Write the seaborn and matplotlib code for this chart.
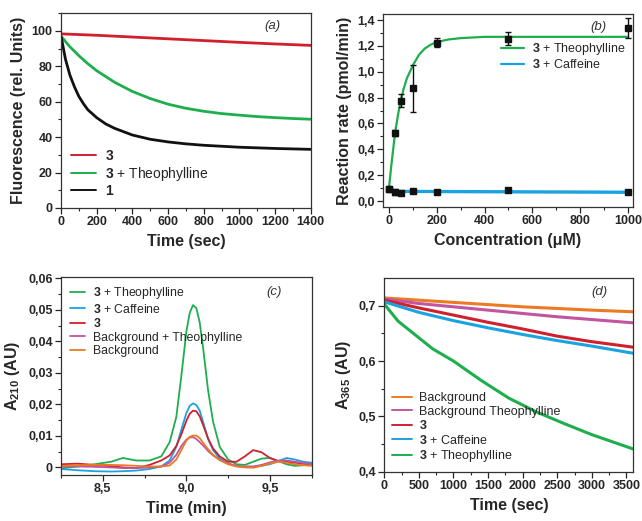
import numpy as np
import pandas as pd
import matplotlib
matplotlib.use("Agg")
import matplotlib.pyplot as plt
import seaborn as sns
from matplotlib.ticker import MultipleLocator, FuncFormatter

# ---------------- Panel (a): fluorescence vs time ----------------
a_red_t = [0, 200, 400, 600, 800, 1000, 1200, 1400]
a_red_y = [98.3, 97.5, 96.5, 95.5, 94.5, 93.5, 92.6, 91.8]
a_green_t = [0, 50, 100, 150, 200, 300, 400, 500, 600, 700, 800, 900, 1000, 1100, 1200, 1300, 1400]
a_green_y = [97.0, 91.0, 86.0, 81.5, 77.5, 71.0, 65.8, 61.8, 58.6, 56.3, 54.6, 53.3, 52.4, 51.6, 51.0, 50.5, 50.1]
a_black_t = [0, 10, 25, 50, 75, 100, 125, 150, 200, 250, 300, 400, 500, 600, 700, 800, 1000, 1200, 1400]
a_black_y = [97, 92, 84, 75, 68.5, 63, 59, 55.5, 51, 47.5, 45, 41.2, 38.8, 37.3, 36.2, 35.4, 34.3, 33.6, 33.1]
a_labels = [r"$\mathbf{3}$", r"$\mathbf{3}$ + Theophylline", r"$\mathbf{1}$"]

# ---------------- Panel (b): reaction rate vs concentration ----------------
b_conc = [0, 25, 50, 100, 200, 500, 1000]
b_theo = [0.09, 0.526, 0.777, 0.872, 1.226, 1.256, 1.341]
b_theo_err = [0.01, 0.02, 0.05, 0.18, 0.035, 0.05, 0.077]
b_caff = [0.09, 0.07, 0.064, 0.074, 0.067, 0.082, 0.067]
b_caff_err = [0.01, 0.02, 0.008, 0.01, 0.008, 0.012, 0.008]
b_fit_theo_x = [0, 5, 10, 15, 20, 25, 30, 40, 50, 60, 75, 100, 125, 150, 175, 200, 250, 300, 400, 600, 1000]
b_fit_theo_y = [0.10, 0.19, 0.28, 0.36, 0.44, 0.52, 0.58, 0.69, 0.78, 0.86, 0.95, 1.05, 1.13, 1.18, 1.21, 1.23, 1.25, 1.26, 1.27, 1.27, 1.27]
b_fit_caff_x = [0, 1000]
b_fit_caff_y = [0.075, 0.068]
b_labels = [r"$\mathbf{3}$ + Theophylline", r"$\mathbf{3}$ + Caffeine"]

# ---------------- Panel (c): chromatograms ----------------
c_t = [8.25, 8.35, 8.45, 8.55, 8.62, 8.7, 8.78, 8.85, 8.9, 8.94, 8.97, 9.0, 9.02, 9.04, 9.06, 9.08,
       9.1, 9.13, 9.16, 9.2, 9.25, 9.3, 9.35, 9.4, 9.45, 9.5, 9.55, 9.6, 9.65, 9.7, 9.75]
c_theo = [-0.0003, 0.0003, 0.001, 0.0018, 0.003, 0.0022, 0.0022, 0.0035, 0.008, 0.016, 0.029, 0.043, 0.049,
          0.0515, 0.0505, 0.046, 0.038, 0.0245, 0.0145, 0.0065, 0.0025, 0.001, 0.0008, 0.0018, 0.0028,
          0.003, 0.002, 0.001, 0.0005, 0.0007, 0.001]
c_caff = [-0.0005, -0.0009, -0.0012, -0.0013, -0.0012, -0.001, -0.0005, 0.0003, 0.0022, 0.0065, 0.012,
          0.0172, 0.0195, 0.0203, 0.0198, 0.018, 0.0145, 0.009, 0.0055, 0.0028, 0.0012, 0.0004, 0.0002,
          0.0002, 0.0005, 0.001, 0.002, 0.003, 0.0025, 0.0018, 0.0015]
c_three = [0.001, 0.0012, 0.0008, 0.0004, 0.0, -0.0002, 0.0008, 0.0022, 0.0038, 0.0068, 0.0105, 0.0148,
           0.017, 0.018, 0.0178, 0.0162, 0.0135, 0.0092, 0.006, 0.0035, 0.0018, 0.0018, 0.0035, 0.0055,
           0.0048, 0.003, 0.002, 0.0018, 0.0015, 0.0012, 0.001]
c_bg_theo = [0.0003, 0.0003, 0.0002, 0.0, -0.0002, -0.0002, 0.0, 0.0003, 0.0015, 0.004, 0.0068, 0.0088,
             0.0095, 0.0096, 0.009, 0.008, 0.007, 0.0052, 0.0038, 0.0024, 0.0012, 0.0005, 0.0003, 0.0003,
             0.0008, 0.0016, 0.0022, 0.0022, 0.0018, 0.0014, 0.001]
c_bg = [0.0005, 0.0007, 0.0008, 0.0008, 0.0007, 0.0005, 0.0003, 0.0003, 0.0006, 0.0025, 0.0055, 0.0085,
        0.0097, 0.0101, 0.0101, 0.0093, 0.0078, 0.0058, 0.004, 0.0023, 0.001, 0.0003, 0.0, -0.0001,
        0.0005, 0.0012, 0.0018, 0.0015, 0.001, 0.0007, 0.0005]
c_labels = [r"$\mathbf{3}$ + Theophylline", r"$\mathbf{3}$ + Caffeine", r"$\mathbf{3}$",
            "Background + Theophylline", "Background"]

# ---------------- Panel (d): absorbance vs time ----------------
d_t = [0, 500, 1000, 1500, 2000, 2500, 3000, 3600]
d_bg = [0.714, 0.710, 0.706, 0.702, 0.698, 0.695, 0.692, 0.689]
d_bg_theo = [0.712, 0.704, 0.698, 0.692, 0.686, 0.680, 0.675, 0.669]
d_three = [0.710, 0.696, 0.683, 0.670, 0.658, 0.645, 0.635, 0.625]
d_caff = [0.707, 0.688, 0.673, 0.660, 0.648, 0.637, 0.627, 0.614]
d_theo_t = [0, 200, 400, 700, 1000, 1400, 1800, 2200, 2600, 3000, 3300, 3600]
d_theo = [0.703, 0.672, 0.652, 0.622, 0.600, 0.565, 0.533, 0.508, 0.487, 0.467, 0.454, 0.441]
d_labels = ["Background", "Background Theophylline", r"$\mathbf{3}$", r"$\mathbf{3}$ + Caffeine",
            r"$\mathbf{3}$ + Theophylline"]

RED = "#d0202e"
GREEN = "#1fae4e"
BLACK = "#111111"
BLUE = "#1aa3e0"
MAGENTA = "#c2559f"
ORANGE = "#ec7a24"

sns.set_style("ticks")
plt.rcParams['font.family'] = ['Liberation Sans', 'DejaVu Sans']
plt.rcParams['mathtext.fontset'] = 'custom'
plt.rcParams['mathtext.rm'] = 'Liberation Sans'
plt.rcParams['mathtext.bf'] = 'Liberation Sans:bold'
plt.rcParams['mathtext.it'] = 'Liberation Sans:italic'
plt.rcParams['axes.edgecolor'] = '#333333'
plt.rcParams['axes.linewidth'] = 0.9

fig = plt.figure(figsize=(6.42, 5.21), dpi=100)
ax_a = fig.add_axes([0.095, 0.6008, 0.389, 0.374])
ax_b = fig.add_axes([0.5966, 0.6027, 0.389, 0.370])
ax_c = fig.add_axes([0.095, 0.0883, 0.3905, 0.3806])
ax_d = fig.add_axes([0.5986, 0.0946, 0.3879, 0.3712])

TICK_FS = 9
LAB_FS = 11.5

def comma(fmt):
    return FuncFormatter(lambda v, p: (fmt.format(v)).replace('.', ','))

def style(ax):
    ax.tick_params(axis='both', which='major', direction='out', length=4, width=0.9,
                   labelsize=TICK_FS, pad=2, top=False, right=False)
    ax.tick_params(axis='both', which='minor', direction='out', length=2, width=0.8,
                   top=False, right=False)
    for lab in ax.get_xticklabels() + ax.get_yticklabels():
        lab.set_fontweight('bold')
    for s in ax.spines.values():
        s.set_visible(True)

# ---- (a)
sns.lineplot(x=a_red_t, y=a_red_y, ax=ax_a, color=RED, lw=2.0, label=a_labels[0], estimator=None)
sns.lineplot(x=a_green_t, y=a_green_y, ax=ax_a, color=GREEN, lw=2.0, label=a_labels[1], estimator=None)
sns.lineplot(x=a_black_t, y=a_black_y, ax=ax_a, color=BLACK, lw=2.0, label=a_labels[2], estimator=None)
ax_a.set_xlim(0, 1400)
ax_a.set_ylim(0, 110)
ax_a.xaxis.set_major_locator(MultipleLocator(200))
ax_a.xaxis.set_minor_locator(MultipleLocator(100))
ax_a.yaxis.set_major_locator(MultipleLocator(20))
ax_a.yaxis.set_minor_locator(MultipleLocator(10))
ax_a.set_xlabel("Time (sec)", fontsize=LAB_FS, fontweight='bold')
ax_a.set_ylabel("Fluorescence (rel. Units)", fontsize=LAB_FS, fontweight='bold')
leg = ax_a.legend(loc='lower left', frameon=False, fontsize=10, handlelength=1.8, handletextpad=0.7,
                  labelspacing=0.12, borderaxespad=0.3)
for h in leg.get_lines():
    h.set_linewidth(1.4)
ax_a.text(0.845, 0.935, "(a)", transform=ax_a.transAxes, ha='center', va='center',
          fontsize=9.5, style='italic', color='#333333')
style(ax_a)

# ---- (b)
sns.lineplot(x=b_fit_theo_x, y=b_fit_theo_y, ax=ax_b, color=GREEN, lw=1.6, label=b_labels[0], estimator=None)
sns.lineplot(x=b_fit_caff_x, y=b_fit_caff_y, ax=ax_b, color=BLUE, lw=2.4, label=b_labels[1], estimator=None)
ax_b.errorbar(b_conc, b_theo, yerr=b_theo_err, fmt='s', color=BLACK, ms=4.5, capsize=2.5,
              elinewidth=1.0, capthick=1.0, zorder=5)
ax_b.errorbar(b_conc, b_caff, yerr=b_caff_err, fmt='s', color=BLACK, ms=4.5, capsize=2.5,
              elinewidth=1.0, capthick=1.0, zorder=5)
ax_b.set_xlim(-25, 1020)
ax_b.set_ylim(-0.046, 1.445)
ax_b.xaxis.set_major_locator(MultipleLocator(200))
ax_b.xaxis.set_minor_locator(MultipleLocator(100))
ax_b.yaxis.set_major_locator(MultipleLocator(0.2))
ax_b.yaxis.set_minor_locator(MultipleLocator(0.1))
ax_b.yaxis.set_major_formatter(comma("{:.1f}"))
ax_b.set_xlabel("Concentration (\u03bcM)", fontsize=LAB_FS, fontweight='bold')
ax_b.set_ylabel("Reaction rate (pmol/min)", fontsize=LAB_FS, fontweight='bold')
leg = ax_b.legend(loc='upper right', bbox_to_anchor=(1.0, 0.9), frameon=False, fontsize=9,
                  handlelength=1.9, handletextpad=0.6, labelspacing=0.1, borderaxespad=0.2)
for h in leg.get_lines():
    h.set_linewidth(1.6)
ax_b.text(0.862, 0.934, "(b)", transform=ax_b.transAxes, ha='center', va='center',
          fontsize=9.5, style='italic', color='#333333')
style(ax_b)

# ---- (c)
for y, col, lab in [(c_theo, GREEN, c_labels[0]), (c_caff, BLUE, c_labels[1]), (c_three, RED, c_labels[2]),
                    (c_bg_theo, MAGENTA, c_labels[3]), (c_bg, ORANGE, c_labels[4])]:
    sns.lineplot(x=c_t, y=y, ax=ax_c, color=col, lw=1.3, label=lab, estimator=None)
ax_c.set_xlim(8.25, 9.75)
ax_c.set_ylim(-0.0024, 0.0605)
ax_c.xaxis.set_major_locator(MultipleLocator(0.5))
ax_c.xaxis.set_minor_locator(MultipleLocator(0.25))
ax_c.yaxis.set_major_locator(MultipleLocator(0.01))
ax_c.yaxis.set_minor_locator(MultipleLocator(0.005))
ax_c.xaxis.set_major_formatter(comma("{:.1f}"))
ax_c.yaxis.set_major_formatter(FuncFormatter(lambda v, p: "0" if abs(v) < 1e-9 else f"{v:.2f}".replace('.', ',')))
ax_c.set_xlabel("Time (min)", fontsize=LAB_FS, fontweight='bold')
ax_c.set_ylabel(r"A$_{\mathbf{210}}$ (AU)", fontsize=LAB_FS, fontweight='bold')
ax_c.legend(loc='upper left', frameon=False, fontsize=8.8, handlelength=1.3, handletextpad=0.6,
            labelspacing=0.12, borderaxespad=0.3)
ax_c.text(0.848, 0.924, "(c)", transform=ax_c.transAxes, ha='center', va='center',
          fontsize=9.5, style='italic', color='#333333')
style(ax_c)

# ---- (d)
for x, y, col, lab in [(d_t, d_bg, ORANGE, d_labels[0]), (d_t, d_bg_theo, MAGENTA, d_labels[1]),
                       (d_t, d_three, RED, d_labels[2]), (d_t, d_caff, BLUE, d_labels[3]),
                       (d_theo_t, d_theo, GREEN, d_labels[4])]:
    sns.lineplot(x=x, y=y, ax=ax_d, color=col, lw=2.2, label=lab, estimator=None)
ax_d.set_xlim(0, 3600)
ax_d.set_ylim(0.4, 0.7495)
ax_d.xaxis.set_major_locator(MultipleLocator(500))
ax_d.xaxis.set_minor_locator(MultipleLocator(250))
ax_d.yaxis.set_major_locator(MultipleLocator(0.1))
ax_d.yaxis.set_minor_locator(MultipleLocator(0.05))
ax_d.yaxis.set_major_formatter(comma("{:.1f}"))
ax_d.set_xlabel("Time (sec)", fontsize=LAB_FS, fontweight='bold')
ax_d.set_ylabel(r"A$_{\mathbf{365}}$ (AU)", fontsize=LAB_FS, fontweight='bold')
leg = ax_d.legend(loc='lower left', frameon=False, fontsize=9, handlelength=1.6, handletextpad=0.6,
                  labelspacing=0.12, borderaxespad=0.2)
for h in leg.get_lines():
    h.set_linewidth(1.4)
ax_d.text(0.865, 0.928, "(d)", transform=ax_d.transAxes, ha='center', va='center',
          fontsize=9.5, style='italic', color='#333333')
style(ax_d)

fig.savefig("out.png", dpi=100)
